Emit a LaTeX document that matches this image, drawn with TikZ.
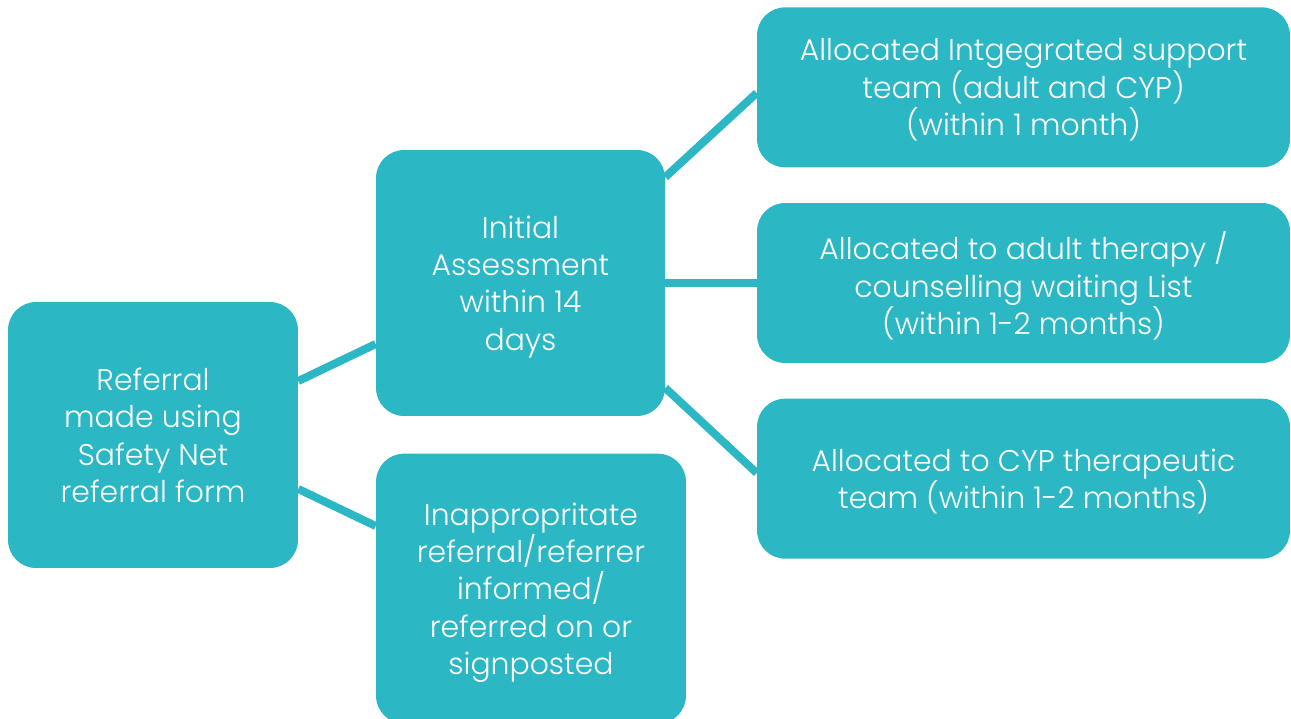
\documentclass[tikz,border=0pt]{standalone}
\usepackage{fontspec}
\setmainfont{Poppins Light}
\usetikzlibrary{positioning}

\definecolor{safeteal}{RGB}{44,183,196}

\begin{document}
\begin{tikzpicture}[
  x=0.02cm, y=-0.02cm,
  node distance=0.7cm,
  box/.style={fill=safeteal,rounded corners=0.56cm,text=white,align=center,
    font=\fontsize{17}{21.3}\selectfont,inner sep=0pt,text depth=0pt},
  tall/.style={box,minimum width=5.8cm,minimum height=5.32cm},
  wide/.style={box,minimum width=10.66cm,minimum height=3.2cm},
  link/.style={draw=safeteal,line width=0.16cm}
]
  \useasboundingbox (0,0) rectangle (1291,718);

  \node[tall] (ref) at (153,435) {Referral\\made using\\Safety Net\\referral form};
  \node[tall,minimum width=5.78cm] (init) at (520.5,283) {Initial\\Assessment\\within 14\\days};
  \node[tall,minimum width=6.2cm,minimum height=5.4cm,below=0.74cm of init.south west,anchor=north west] (inap)
    {Inappropritate\\referral/referrer\\informed/\\referred on or\\signposted};

  \node[wide] (adult) at (1023.5,283) {Allocated to adult therapy /\\counselling waiting List\\(within 1-2 months)};
  \node[wide,above=of adult] (integ) {Allocated Intgegrated support\\team (adult and CYP)\\(within 1 month)};
  \node[wide,below=of adult] (cyp) {Allocated to CYP therapeutic\\team (within 1-2 months)};

  % connectors
  \draw[link] (ref.east |- 0,381) -- (init.west |- 0,344);
  \draw[link] (ref.east |- 0,489) -- (inap.west |- 0,526);
  \draw[link] (init.east |- 0,177) -- (integ.west |- 0,93);
  \draw[link] (init.east) -- (adult.west);
  \draw[link] (init.east |- 0,388) -- (cyp.west |- 0,473);
\end{tikzpicture}
\end{document}
